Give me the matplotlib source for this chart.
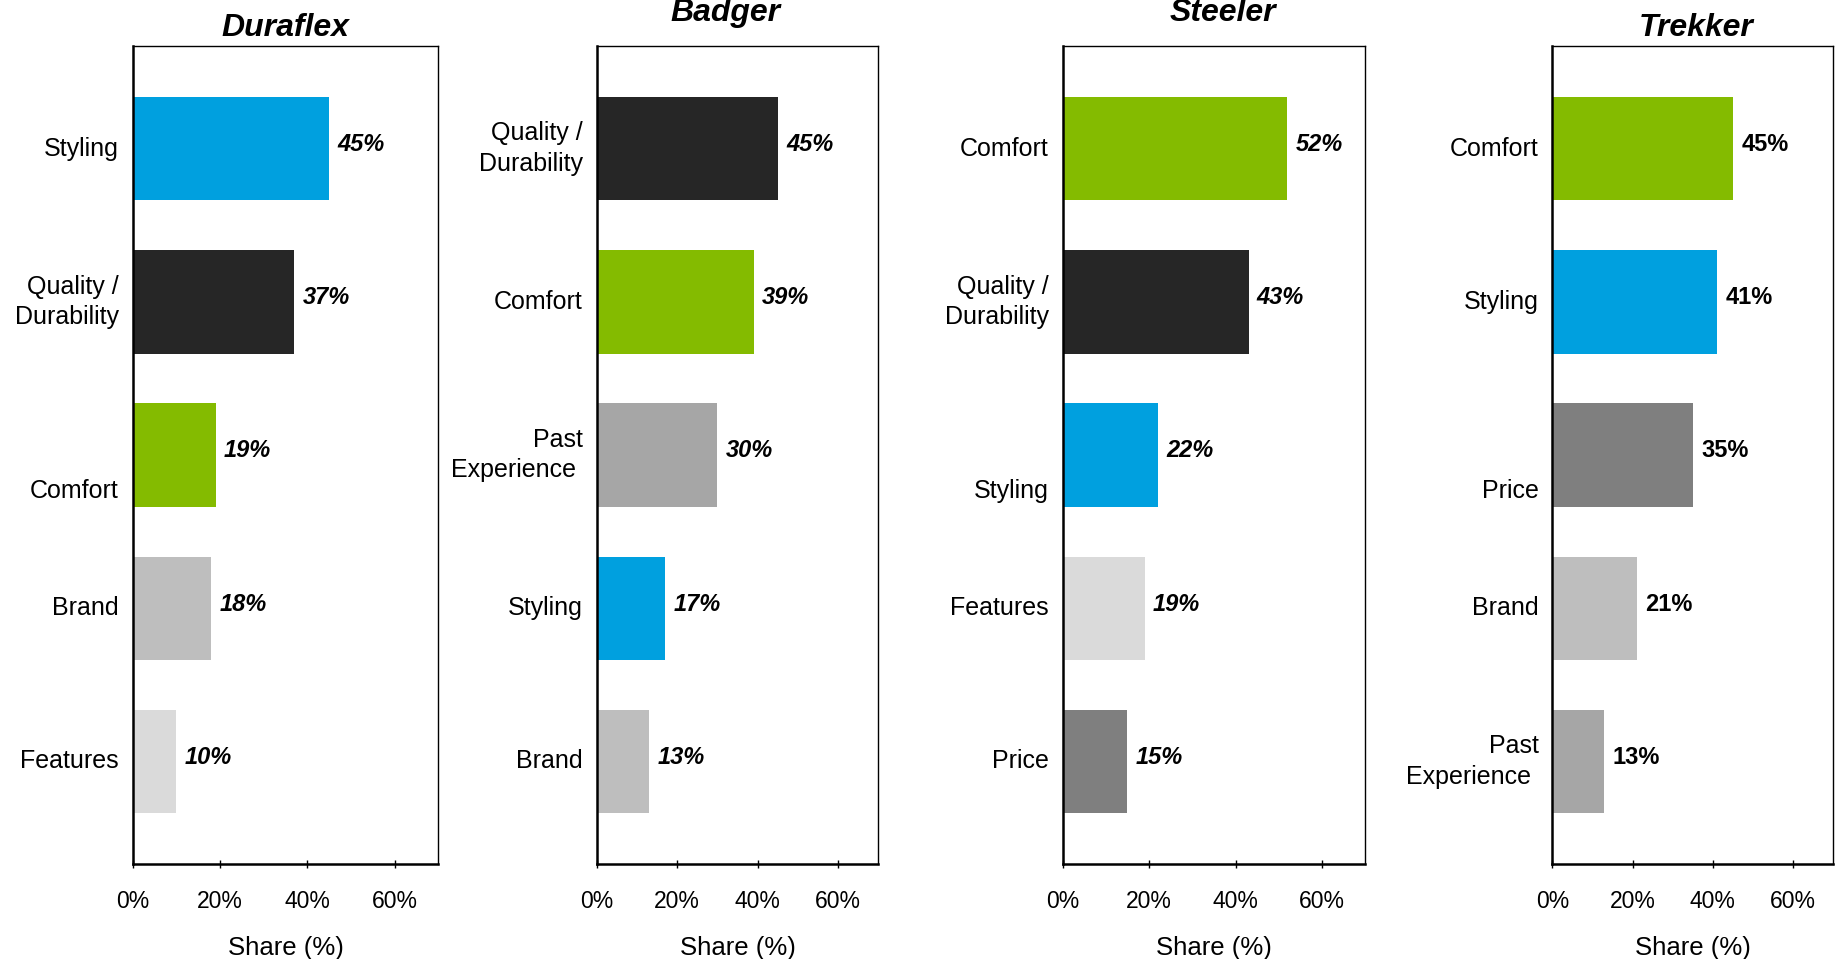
import matplotlib
matplotlib.use("Agg")
import matplotlib.pyplot as plt

plt.rcParams['font.family'] = ['Liberation Sans', 'DejaVu Sans']

# dados de cada marca (de cima para baixo)
brands = ["Duraflex", "Badger", "Steeler", "Trekker"]

duraflex_labels = ["Styling", "Quality /\nDurability", "Comfort", "Brand", "Features"]
duraflex_values = [45, 37, 19, 18, 10]

badger_labels = ["Quality /\nDurability", "Comfort", "Past\nExperience ", "Styling", "Brand"]
badger_values = [45, 39, 30, 17, 13]

steeler_labels = ["Comfort", "Quality /\nDurability", "Styling", "Features", "Price"]
steeler_values = [52, 43, 22, 19, 15]

trekker_labels = ["Comfort", "Styling", "Price", "Brand", "Past\nExperience "]
trekker_values = [45, 41, 35, 21, 13]

x_ticks = [0, 20, 40, 60]
x_ticklabels = ["0%", "20%", "40%", "60%"]

# cores por categoria
colors = {
    "Styling": "#00A0DF",
    "Quality / Durability": "#262626",
    "Comfort": "#84BB00",
    "Brand": "#BEBEBE",
    "Features": "#DADADA",
    "Past Experience": "#A6A6A6",
    "Price": "#7F7F7F",
}

all_labels = [duraflex_labels, badger_labels, steeler_labels, trekker_labels]
all_values = [duraflex_values, badger_values, steeler_values, trekker_values]

# layout
lefts = [0.0722, 0.3245, 0.5778, 0.8441]
widths = [0.1661, 0.1531, 0.1646, 0.1528]
title_pads = [7, 18, 18, 7]
title_x = [0.5, 0.458, 0.531, 0.512]
label_drop = [[0, 0, 26, 0, 0], [0, 0, 0, 0, 0], [0, 0, 26, 0, 0], [0, 0, 26, 0, 0]]
value_style = ["italic", "italic", "italic", "normal"]

fig = plt.figure(figsize=(18.39, 9.59), dpi=100)

for k in range(4):
    ax = fig.add_axes([lefts[k], 0.099, widths[k], 0.853])
    labels = all_labels[k]
    values = all_values[k]
    ypos = [4 - i for i in range(len(values))]
    cols = [colors[" ".join(l.split())] for l in labels]
    ax.barh(ypos, values, height=0.675, color=cols)

    for i, (lab, v, y) in enumerate(zip(labels, values, ypos)):
        ax.annotate(lab, xy=(0, y), xycoords=("axes fraction", "data"),
                    xytext=(-10, -label_drop[k][i]), textcoords="offset points",
                    ha="right", va="center", fontsize=18, multialignment="right",
                    linespacing=1.35)
        ax.annotate(f"{v}%", xy=(v, y), xytext=(6, 3), textcoords="offset points",
                    ha="left", va="center", fontsize=17, fontweight="bold",
                    fontstyle=value_style[k])

    ax.set_xlim(0, 70)
    ax.set_ylim(-0.67, 4.67)
    ax.set_yticks([])
    ax.set_xticks(x_ticks)
    ax.set_xticklabels(x_ticklabels, fontsize=16.5)
    ax.tick_params(axis="x", direction="inout", length=6, width=1, pad=16)
    ax.set_xlabel("Share (%)", fontsize=18.5, labelpad=16)
    ax.set_title(brands[k], fontsize=23, fontweight="bold", fontstyle="italic",
                 pad=title_pads[k], x=title_x[k])
    for s in ["top", "right"]:
        ax.spines[s].set_linewidth(1.0)
    for s in ["left", "bottom"]:
        ax.spines[s].set_linewidth(1.8)

plt.savefig("out.png", dpi=100)
